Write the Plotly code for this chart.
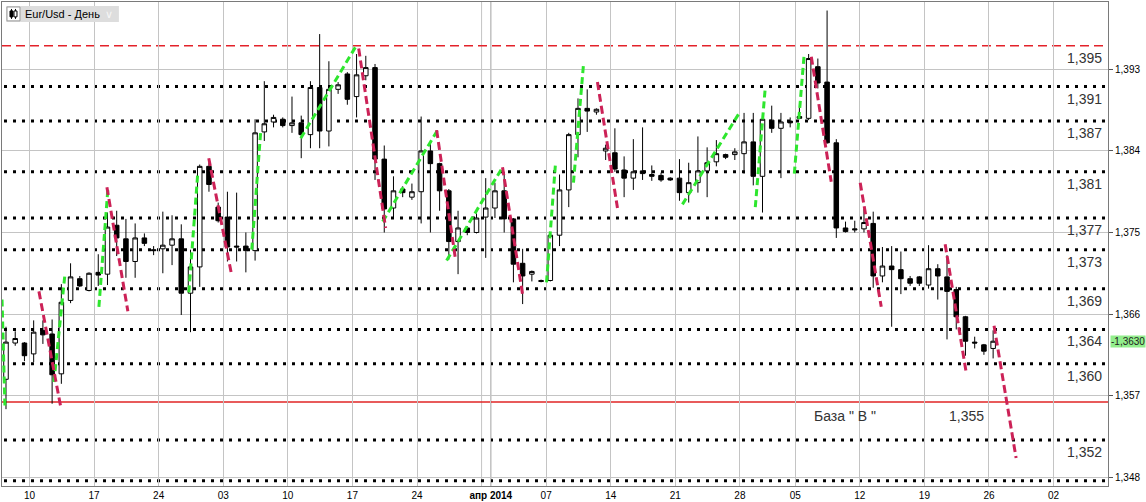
import plotly.graph_objects as go

# ---------------- data (daily EUR/USD bars) ----------------
opens = [1.3588, 1.3628, 1.3628, 1.3616, 1.3642, 1.3638, 1.3594, 1.3675, 1.3699, 1.3686,
         1.3706, 1.3704, 1.3758, 1.3743, 1.3718, 1.3744, 1.3731, 1.3732, 1.3736, 1.3743,
         1.3683, 1.3712, 1.3823, 1.3778, 1.3767, 1.3735, 1.3735, 1.3730, 1.3861, 1.3872,
         1.3875, 1.3868, 1.3871, 1.3858, 1.3910, 1.3862, 1.3908, 1.3925, 1.3900, 1.3923,
         1.3932, 1.3831, 1.3777, 1.3798, 1.3789, 1.3795, 1.3840, 1.3826, 1.3796, 1.3740,
         1.3755, 1.3750, 1.3767, 1.3777, 1.3796, 1.3765, 1.3716, 1.3704, 1.3697, 1.3697,
         1.3747, 1.3797, 1.3858, 1.3887, 1.3883, 1.3840, 1.3838, 1.3819, 1.3810, 1.3818,
         1.3814, 1.3813, 1.3810, 1.3810, 1.3794, 1.3805, 1.3818, 1.3828, 1.3836, 1.3836,
         1.3837, 1.3850, 1.3812, 1.3874, 1.3865, 1.3873, 1.3878, 1.3876, 1.3933, 1.3916,
         1.3849, 1.3755, 1.3754, 1.3754, 1.3760, 1.3702, 1.3713, 1.3709, 1.3699, 1.3701,
         1.3692, 1.3710, 1.3701, 1.3687, 1.3657, 1.3629, 1.3626, 1.3622]
highs = [1.3646, 1.3641, 1.3629, 1.3653, 1.3653, 1.3654, 1.3693, 1.3716, 1.3702, 1.3706,
         1.3726, 1.3772, 1.3774, 1.3765, 1.3760, 1.3749, 1.3735, 1.3773, 1.3769, 1.3759,
         1.3731, 1.3825, 1.3827, 1.3783, 1.3795, 1.3794, 1.3750, 1.3875, 1.3917, 1.3880,
         1.3877, 1.3900, 1.3879, 1.3917, 1.3969, 1.3939, 1.3916, 1.3927, 1.3947, 1.3945,
         1.3936, 1.3846, 1.3812, 1.3801, 1.3804, 1.3878, 1.3849, 1.3827, 1.3798, 1.3774,
         1.3757, 1.3771, 1.3810, 1.3805, 1.3817, 1.3766, 1.3732, 1.3708, 1.3698, 1.3748,
         1.3814, 1.3860, 1.3898, 1.3908, 1.3887, 1.3847, 1.3865, 1.3834, 1.3853, 1.3866,
         1.3824, 1.3816, 1.3811, 1.3831, 1.3827, 1.3856, 1.3844, 1.3852, 1.3837, 1.3843,
         1.3882, 1.3882, 1.3877, 1.3890, 1.3882, 1.3877, 1.3888, 1.3947, 1.3942, 1.3995,
         1.3853, 1.3762, 1.3763, 1.3776, 1.3773, 1.3734, 1.3735, 1.3729, 1.3702, 1.3702,
         1.3736, 1.3715, 1.3725, 1.3690, 1.3658, 1.3635, 1.3627, 1.3642]
lows = [1.3555, 1.3625, 1.3608, 1.3607, 1.3627, 1.3561, 1.3583, 1.3672, 1.3690, 1.3685,
        1.3691, 1.3692, 1.3724, 1.3700, 1.3700, 1.3735, 1.3725, 1.3705, 1.3714, 1.3659,
        1.3640, 1.3690, 1.3795, 1.3761, 1.3718, 1.3718, 1.3706, 1.3719, 1.3851, 1.3866,
        1.3866, 1.3860, 1.3832, 1.3843, 1.3843, 1.3845, 1.3903, 1.3891, 1.3877, 1.3918,
        1.3808, 1.3750, 1.3765, 1.3789, 1.3786, 1.3760, 1.3750, 1.3774, 1.3720, 1.3704,
        1.3747, 1.3749, 1.3722, 1.3766, 1.3750, 1.3695, 1.3671, 1.3696, 1.3695, 1.3696,
        1.3735, 1.3778, 1.3833, 1.3861, 1.3880, 1.3830, 1.3817, 1.3789, 1.3797, 1.3808,
        1.3807, 1.3806, 1.3807, 1.3785, 1.3783, 1.3794, 1.3789, 1.3823, 1.3831, 1.3830,
        1.3815, 1.3802, 1.3772, 1.3860, 1.3810, 1.3866, 1.3875, 1.3874, 1.3909, 1.3848,
        1.3744, 1.3750, 1.3750, 1.3750, 1.3689, 1.3695, 1.3646, 1.3682, 1.3691, 1.3691,
        1.3688, 1.3676, 1.3632, 1.3643, 1.3614, 1.3622, 1.3615, 1.3611]
closes = [1.3629, 1.3633, 1.3614, 1.3640, 1.3637, 1.3593, 1.3673, 1.3701, 1.3691, 1.3705,
          1.3703, 1.3756, 1.3744, 1.3718, 1.3744, 1.3738, 1.3730, 1.3736, 1.3743, 1.3683,
          1.3712, 1.3823, 1.3803, 1.3763, 1.3734, 1.3734, 1.3730, 1.3860, 1.3870, 1.3877,
          1.3868, 1.3871, 1.3858, 1.3910, 1.3862, 1.3908, 1.3913, 1.3897, 1.3924, 1.3932,
          1.3831, 1.3776, 1.3796, 1.3794, 1.3795, 1.3840, 1.3826, 1.3796, 1.3740, 1.3755,
          1.3750, 1.3766, 1.3777, 1.3796, 1.3765, 1.3715, 1.3702, 1.3707, 1.3696, 1.3747,
          1.3797, 1.3858, 1.3887, 1.3884, 1.3886, 1.3843, 1.3820, 1.3810, 1.3817, 1.3815,
          1.3812, 1.3808, 1.3808, 1.3794, 1.3805, 1.3818, 1.3827, 1.3837, 1.3833, 1.3839,
          1.3850, 1.3812, 1.3875, 1.3865, 1.3872, 1.3871, 1.3876, 1.3942, 1.3915, 1.3849,
          1.3755, 1.3751, 1.3753, 1.3761, 1.3702, 1.3713, 1.3709, 1.3699, 1.3694, 1.3694,
          1.3710, 1.3702, 1.3685, 1.3657, 1.3630, 1.3628, 1.3619, 1.3630]

# first bar of each week (bar index) and its label
week_start_bars = [3, 10, 17, 24, 31, 38, 45, 53, 59, 66, 73, 80, 86, 93, 100, 107, 114]
week_labels = ["10", "17", "24", "03", "10", "17", "24", "<b>апр 2014</b>", "07", "14",
               "21", "28", "05", "12", "19", "26", "02"]
extra_grid_bars = [52]          # week line of 31 Mar (label replaced by month)
month_bar = 53                  # 1 Apr 2014

price_ticks = [1.348, 1.357, 1.366, 1.375, 1.384, 1.393]
last_price = 1.3630

# horizontal support/resistance levels (dotted) and their labels
level_values = [1.3911, 1.3873, 1.3817, 1.3766, 1.3731, 1.3688, 1.3643, 1.3605, 1.3521, 1.3476]
level_labels = ["1,391", "1,387", "1,381", "1,377", "1,373", "1,369", "1,364", "1,360", "1,352", ""]

top_level = 1.3956             # red dashed
top_label = "1,395"
base_level = 1.3563            # red solid
base_label = "База \" В \""
base_value_label = "1,355"

# trend segments (bar index, price) -> (bar index, price)
red_segments = [(3.57, 1.3685, 5.96, 1.3556), (10.94, 1.3800, 13.21, 1.3663),
                (21.98, 1.3832, 24.48, 1.3702), (38.23, 1.3953, 41.15, 1.3755),
                (46.68, 1.3863, 48.73, 1.3720), (53.82, 1.3822, 55.99, 1.3682),
                (64.11, 1.3916, 66.28, 1.3777), (87.29, 1.3944, 89.45, 1.3806),
                (92.59, 1.3805, 94.87, 1.3668), (101.80, 1.3737, 104.07, 1.3596),
                (107.10, 1.3647, 109.49, 1.3501)]
green_segments = [(-0.43, 1.3676, -0.11, 1.3556), (5.20, 1.3585, 6.39, 1.3704),
                  (10.07, 1.3668, 11.05, 1.3799), (19.82, 1.3684, 20.79, 1.3816),
                  (26.64, 1.3731, 27.62, 1.3863), (31.95, 1.3854, 37.90, 1.3955),
                  (40.83, 1.3762, 46.78, 1.3863), (47.76, 1.3719, 53.82, 1.3822),
                  (58.59, 1.3695, 59.56, 1.3826), (61.51, 1.3805, 62.60, 1.3936),
                  (73.32, 1.3781, 79.49, 1.3882), (81.22, 1.3778, 82.30, 1.3910),
                  (85.45, 1.3815, 86.52, 1.3947)]

# ---------------- figure ----------------
W, H = 1146, 502
ML, MR, MT, MB = 1, 38, 1, 14
PW, PH = W - ML - MR, H - MT - MB


def px(x):
    return (x - ML) / PW


def py(y):
    return (H - MB - y) / PH


bars = list(range(len(opens)))
GRID = "#c4c4c4"
FONT = "Liberation Sans, Arial, sans-serif"

fig = go.Figure()
fig.add_trace(go.Candlestick(
    x=bars, open=opens, high=highs, low=lows, close=closes,
    increasing=dict(line=dict(color="black", width=1), fillcolor="white"),
    decreasing=dict(line=dict(color="black", width=1), fillcolor="black"),
    whiskerwidth=0, hoverinfo="skip", showlegend=False,
))


def seg_xy(segs):
    xs, ys = [], []
    for x0, y0, x1, y1 in segs:
        xs += [x0, x1, None]
        ys += [y0, y1, None]
    return xs, ys


gx, gy = seg_xy(green_segments)
rx, ry = seg_xy(red_segments)
fig.add_trace(go.Scatter(x=gx, y=gy, mode="lines", hoverinfo="skip", showlegend=False,
                         line=dict(color="#2ee62e", width=3, dash="7px,4px")))
fig.add_trace(go.Scatter(x=rx, y=ry, mode="lines", hoverinfo="skip", showlegend=False,
                         line=dict(color="#cc2257", width=3, dash="8px,4px")))

shapes = []
for b in extra_grid_bars:
    shapes.append(dict(type="line", xref="x", yref="paper", x0=b - 0.45, x1=b - 0.45,
                       y0=0, y1=1, line=dict(color=GRID, width=1), layer="between"))
shapes.append(dict(type="line", xref="x", yref="paper", x0=month_bar - 0.45, x1=month_bar - 0.45,
                   y0=0, y1=1, line=dict(color="#8a8a8a", width=1), layer="between"))
for v in level_values:
    shapes.append(dict(type="line", xref="paper", yref="y", x0=px(3), x1=px(1106), y0=v, y1=v,
                       line=dict(color="black", width=3, dash="3px,6px"), layer="between"))
shapes.append(dict(type="line", xref="paper", yref="y", x0=0, x1=1, y0=top_level, y1=top_level,
                   line=dict(color="#e3222a", width=1.5, dash="9px,5px"), layer="between"))
shapes.append(dict(type="line", xref="paper", yref="y", x0=0, x1=1, y0=base_level, y1=base_level,
                   line=dict(color="#e02424", width=1.5), layer="between"))

# title box top-left
shapes.append(dict(type="rect", xref="paper", yref="paper", x0=px(5), x1=px(118), y0=py(21), y1=py(5),
                   fillcolor="#dddddd", line=dict(width=0), layer="above"))
shapes.append(dict(type="rect", xref="paper", yref="paper", x0=px(6), x1=px(19), y0=py(20), y1=py(6),
                   fillcolor="white", line=dict(color="#9a9a9a", width=1), layer="above"))
for cx, fill in [(10.5, "black"), (14.5, "white")]:
    shapes.append(dict(type="line", xref="paper", yref="paper", x0=px(cx), x1=px(cx), y0=py(18), y1=py(8),
                       line=dict(color="black", width=1), layer="above"))
    shapes.append(dict(type="rect", xref="paper", yref="paper", x0=px(cx - 1.5), x1=px(cx + 1.5),
                       y0=py(16), y1=py(10), fillcolor=fill, line=dict(color="black", width=1),
                       layer="above"))

annotations = []
for v, t in zip(level_values, level_labels):
    if t:
        annotations.append(dict(xref="paper", yref="y", x=px(1104), y=v, text=t, showarrow=False,
                                xanchor="right", yanchor="top", yshift=-2,
                                font=dict(family=FONT, size=14, color="#333333")))
annotations.append(dict(xref="paper", yref="y", x=px(1104), y=top_level, text=top_label, showarrow=False,
                        xanchor="right", yanchor="top", yshift=-2,
                        font=dict(family=FONT, size=14, color="#333333")))
annotations.append(dict(xref="paper", yref="y", x=px(812), y=base_level, text=base_label, showarrow=False,
                        xanchor="left", yanchor="top", yshift=-4,
                        font=dict(family=FONT, size=14, color="#333333")))
annotations.append(dict(xref="paper", yref="y", x=px(986), y=base_level, text=base_value_label,
                        showarrow=False, xanchor="right", yanchor="top", yshift=-4,
                        font=dict(family=FONT, size=14, color="#333333")))
annotations.append(dict(xref="paper", yref="y", x=1, xshift=2, y=last_price,
                        text="-" + f"{last_price:.4f}".replace(".", ","), showarrow=False,
                        xanchor="left", yanchor="middle", bgcolor="#92ee8c", borderpad=0,
                        font=dict(family=FONT, size=10, color="#222222")))
annotations.append(dict(xref="paper", yref="paper", x=px(22), y=py(13), text="Eur/Usd - День",
                        showarrow=False, xanchor="left", yanchor="middle",
                        font=dict(family=FONT, size=11, color="black")))
annotations.append(dict(xref="paper", yref="paper", x=px(108), y=py(13), text="∨",
                        showarrow=False, xanchor="center", yanchor="middle",
                        font=dict(family=FONT, size=11, color="#f6f6f6")))

fig.update_layout(
    width=W, height=H,
    margin=dict(l=ML, r=MR, t=MT, b=MB, pad=0),
    paper_bgcolor="white", plot_bgcolor="white",
    showlegend=False, hovermode=False,
    shapes=shapes, annotations=annotations,
    xaxis=dict(range=[-0.433, 119.45], tickmode="array",
               tickvals=[b - 0.45 for b in week_start_bars], ticktext=week_labels,
               showgrid=True, gridcolor=GRID, gridwidth=1, ticks="", zeroline=False,
               showline=True, linecolor="#7a7a7a", linewidth=1, mirror=True,
               tickfont=dict(family=FONT, size=10, color="black"),
               rangeslider=dict(visible=False), fixedrange=True),
    yaxis=dict(side="right", range=[1.34702, 1.40044], tickmode="array",
               tickvals=price_ticks, ticktext=[f"{v:.3f}".replace(".", ",") for v in price_ticks],
               ticks="outside", ticklen=4, tickcolor="#555555",
               showgrid=True, gridcolor=GRID, gridwidth=1, zeroline=False,
               showline=True, linecolor="#7a7a7a", linewidth=1, mirror=True,
               tickfont=dict(family=FONT, size=10, color="black"), fixedrange=True),
)

fig.write_html("out.html", config={"displayModeBar": False},
               post_script="document.body.style.margin='0px';document.body.style.overflow='hidden';")
